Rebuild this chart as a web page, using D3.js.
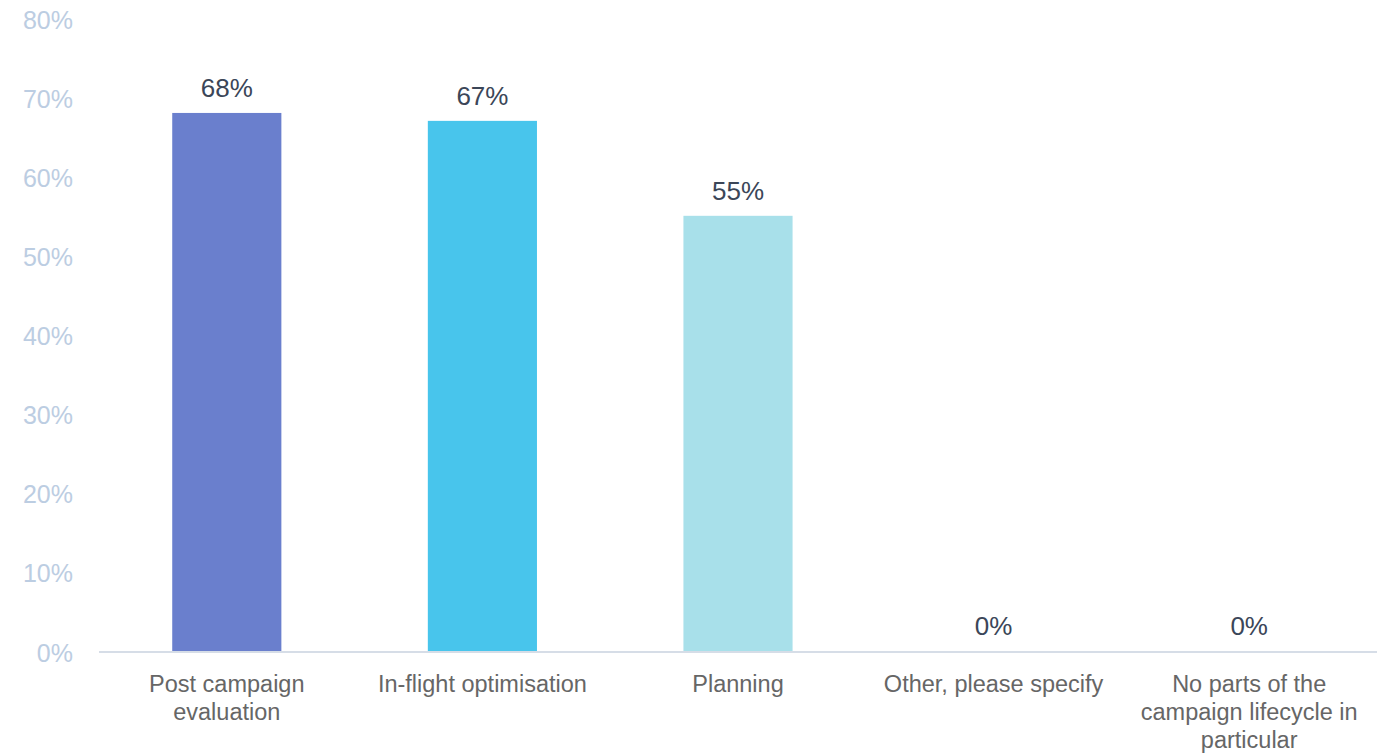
<!DOCTYPE html>
<html>
<head>
<meta charset="utf-8">
<script src="https://cdn.jsdelivr.net/npm/d3@7"></script>
<style>
  body { margin: 0; background: #fff; }
  text { font-family: "Liberation Sans", Arial, sans-serif; }
</style>
</head>
<body>
<div id="chart"></div>
<script>
const width = 1386;
const height = 754;
const marginTop = 18;
const marginBottom = 103;
const marginLeft = 99;
const marginRight = 9;

const categories = ["Post campaign evaluation", "In-flight optimisation", "Planning", "Other, please specify", "No parts of the campaign lifecycle in particular"];
const categoryLines = [["Post campaign", "evaluation"], ["In-flight optimisation"], ["Planning"], ["Other, please specify"], ["No parts of the", "campaign lifecycle in", "particular"]];
const values = [68, 67, 55, 0, 0];
const barColors = ["#6a7fcd", "#48c5ec", "#a8e0ea", "#a8e0ea", "#a8e0ea"];
const yTicks = [0, 10, 20, 30, 40, 50, 60, 70, 80];

const data = categories.map((c, i) => ({ name: c, lines: categoryLines[i], value: values[i], color: barColors[i] }));

const svg = d3.select("#chart").append("svg")
    .attr("width", width)
    .attr("height", height);

const x = d3.scaleBand()
    .domain(categories)
    .range([marginLeft, width - marginRight])
    .padding(0);

const y = d3.scaleLinear()
    .domain([0, 80])
    .range([height - marginBottom, marginTop]);

const barW = x.bandwidth() * 0.427;

// y axis labels (no line)
const yAxis = svg.append("g")
    .attr("transform", `translate(${marginLeft}, 2)`)
    .call(d3.axisLeft(y).tickValues(yTicks).tickFormat(d => d + "%").tickSize(0).tickPadding(26));
yAxis.select(".domain").remove();
yAxis.selectAll("text")
    .style("font-size", "25px")
    .style("fill", "#bccde2");

// bars
svg.selectAll(".bar")
    .data(data)
    .enter().append("rect")
    .attr("class", "bar")
    .attr("x", d => x(d.name) + x.bandwidth() / 2 - barW / 2)
    .attr("y", d => y(d.value))
    .attr("width", barW)
    .attr("height", d => y(0) - y(d.value))
    .attr("fill", d => d.color);

// baseline
svg.append("line")
    .attr("x1", marginLeft)
    .attr("x2", width - marginRight)
    .attr("y1", y(0) + 1)
    .attr("y2", y(0) + 1)
    .style("stroke", "#d6dde7")
    .style("stroke-width", 2);

// value labels
svg.selectAll(".val")
    .data(data)
    .enter().append("text")
    .attr("class", "val")
    .attr("x", d => x(d.name) + x.bandwidth() / 2)
    .attr("y", d => y(d.value) - 16)
    .attr("text-anchor", "middle")
    .style("font-size", "26px")
    .style("fill", "#3b4658")
    .text(d => d.value + "%");

// category labels
const cat = svg.selectAll(".cat")
    .data(data)
    .enter().append("text")
    .attr("class", "cat")
    .attr("x", d => x(d.name) + x.bandwidth() / 2)
    .attr("y", y(0) + 41)
    .attr("text-anchor", "middle")
    .style("font-size", "23.5px")
    .style("fill", "#666666");

cat.selectAll("tspan")
    .data(d => d.lines.map(l => ({ l, cx: x(d.name) + x.bandwidth() / 2 })))
    .enter().append("tspan")
    .attr("x", d => d.cx)
    .attr("dy", (d, i) => i === 0 ? 0 : 28)
    .text(d => d.l);
</script>
</body>
</html>
